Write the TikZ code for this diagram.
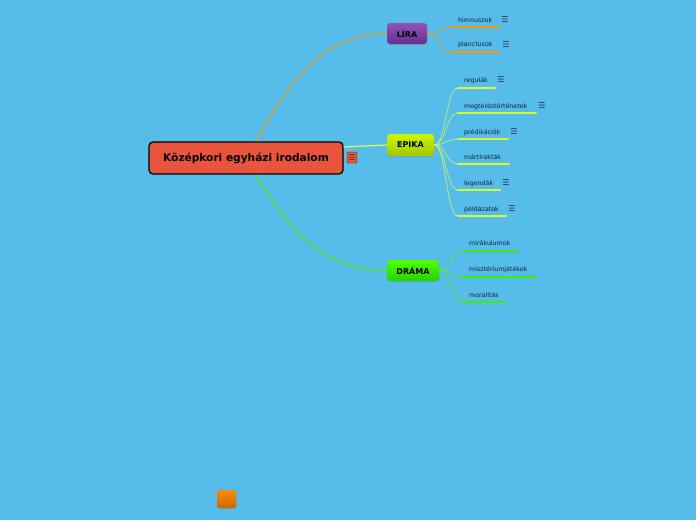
\documentclass[tikz,border=0pt]{standalone}
\usepackage{fontspec}
\setmainfont{DejaVu Sans}
\usetikzlibrary{shadows}
\definecolor{bg}{RGB}{86,189,235}
\definecolor{mainred}{RGB}{232,84,60}
\definecolor{liraTop}{RGB}{146,82,184}
\definecolor{liraBot}{RGB}{104,48,142}
\definecolor{epTop}{RGB}{206,245,0}
\definecolor{epBot}{RGB}{160,200,0}
\definecolor{drTop}{RGB}{80,255,0}
\definecolor{drBot}{RGB}{36,210,0}
\definecolor{liraLine}{RGB}{255,153,0}
\definecolor{epLine}{RGB}{214,250,40}
\definecolor{epThin}{RGB}{200,240,110}
\definecolor{drLine}{RGB}{60,240,0}
\definecolor{drThin}{RGB}{90,235,60}
\definecolor{leafText}{RGB}{20,30,50}
\definecolor{iconGray}{RGB}{40,50,60}
\tikzset{
  mainbox/.style={draw=black, line width=1.3pt, fill=mainred, rounded corners=4pt,
    minimum width=194pt, minimum height=32pt, inner sep=0pt,
    font=\bfseries\fontsize{10.6}{12}\selectfont, text=black},
  topic/.style={rounded corners=3pt, inner sep=0pt, minimum height=21pt,
    font=\bfseries\fontsize{8}{9}\selectfont, text=black,
    drop shadow={shadow xshift=0.6pt, shadow yshift=-1pt, opacity=0.3}},
  leaf/.style={anchor=west, inner sep=0pt, yshift=-1.2pt, text=leafText, font=\fontsize{6.3}{7}\selectfont},
  icon/.style={inner sep=0pt, yshift=-0.8pt, text=iconGray, font=\fontsize{8}{8}\selectfont},
  ulL/.style={draw=liraLine, line width=2.6pt, line cap=round},
  ulE/.style={draw=epLine, line width=2.6pt, line cap=round},
  ulD/.style={draw=drLine, line width=2.6pt, line cap=round},
  linkL/.style={draw=liraLine!80!bg, line width=0.8pt},
  linkE/.style={draw=epThin, line width=0.7pt},
  linkD/.style={draw=drThin, line width=0.8pt},
}
\begin{document}
\begin{tikzpicture}[x=1pt,y=-1pt]
\fill[bg] (0,0) rectangle (696,520);
\useasboundingbox (0,0) rectangle (696,520);

% central node
\node[mainbox] (main) at (246,158) {Középkori egyházi irodalom};
\node[draw=red!60!black, line width=0.4pt, fill=mainred, rounded corners=1pt, minimum width=10pt, minimum height=11pt, inner sep=0pt, text=black!80, font=\fontsize{8}{8}\selectfont] (mainicon) at (352,157.5) {☰};

% topics
\node[topic, top color=liraTop, bottom color=liraBot, minimum width=40pt] (lira) at (407,33.5) {LÍRA};
\node[topic, top color=epTop, bottom color=epBot, minimum width=47pt, minimum height=22pt] (epika) at (410.5,145) {EPIKA};
\node[topic, top color=drTop, bottom color=drBot, minimum width=52pt] (drama) at (413,270.5) {DRÁMA};

% main connectors
\draw[draw=liraLine!85!bg, line width=1.2pt] ([xshift=10pt]main.north) .. controls +(35,-65) and +(-60,0) .. (lira.west);
\draw[draw=epLine!85!white, line width=1.2pt] ([yshift=11pt]main.east) -- (epika.west);
\draw[draw=drLine, line width=1.2pt] ([xshift=10pt]main.south) .. controls +(35,60) and +(-60,0) .. (drama.west);

% ---- LÍRA children
\node[leaf] (h1) at (458,19) {himnuszok};
\node[icon] (h1i) at (505,19) {☰};
\coordinate (h1u) at (452,27);
\coordinate (h1e) at (499,27);
\draw[ulL] (h1u) -- (h1e);
\draw[linkL] (lira.east) .. controls +(12,0) and +(-12,0) .. (h1u);

\node[leaf] (h2) at (458,44) {planctusok};
\node[icon] (h2i) at (506,44) {☰};
\coordinate (h2u) at (452,52);
\coordinate (h2e) at (499,52);
\draw[ulL] (h2u) -- (h2e);
\draw[linkL] (lira.east) .. controls +(12,0) and +(-12,0) .. (h2u);

% ---- EPIKA children
\node[leaf] (e1) at (464,79) {regulák};
\node[icon] (e1i) at (501,79) {☰};
\coordinate (e1u) at (458,88);
\coordinate (e1e) at (495,88);
\draw[ulE] (e1u) -- (e1e);
\draw[linkE] (epika.east) .. controls +(12,0) and +(-12,0) .. (e1u);

\node[leaf] (e2) at (464,105) {megtéréstörténetek};
\node[icon] (e2i) at (542,105) {☰};
\coordinate (e2u) at (458,113);
\coordinate (e2e) at (536,113);
\draw[ulE] (e2u) -- (e2e);
\draw[linkE] (epika.east) .. controls +(12,0) and +(-12,0) .. (e2u);

\node[leaf] (e3) at (464,131) {prédikációk};
\node[icon] (e3i) at (514,131) {☰};
\coordinate (e3u) at (458,139);
\coordinate (e3e) at (508,139);
\draw[ulE] (e3u) -- (e3e);
\draw[linkE] (epika.east) .. controls +(12,0) and +(-12,0) .. (e3u);

\node[leaf] (e4) at (464,156) {mártírakták};
\coordinate (e4u) at (458,164);
\coordinate (e4e) at (509,164);
\draw[ulE] (e4u) -- (e4e);
\draw[linkE] (epika.east) .. controls +(12,0) and +(-12,0) .. (e4u);

\node[leaf] (e5) at (464,182) {legendák};
\node[icon] (e5i) at (506,182) {☰};
\coordinate (e5u) at (458,190);
\coordinate (e5e) at (500,190);
\draw[ulE] (e5u) -- (e5e);
\draw[linkE] (epika.east) .. controls +(12,0) and +(-12,0) .. (e5u);

\node[leaf] (e6) at (464,208) {példázatok};
\node[icon] (e6i) at (512,208) {☰};
\coordinate (e6u) at (458,216);
\coordinate (e6e) at (506,216);
\draw[ulE] (e6u) -- (e6e);
\draw[linkE] (epika.east) .. controls +(12,0) and +(-12,0) .. (e6u);

% ---- DRÁMA children
\node[leaf] (d1) at (469,242) {mirákulumok};
\coordinate (d1u) at (463,251);
\coordinate (d1e) at (518,251);
\draw[ulD] (d1u) -- (d1e);
\draw[linkD] (drama.east) .. controls +(12,0) and +(-12,0) .. (d1u);

\node[leaf] (d2) at (469,268) {misztériumjátékok};
\coordinate (d2u) at (463,277);
\coordinate (d2e) at (536,277);
\draw[ulD] (d2u) -- (d2e);
\draw[linkD] (drama.east) .. controls +(12,0) and +(-12,0) .. (d2u);

\node[leaf] (d3) at (469,294) {moralitás};
\coordinate (d3u) at (463,302);
\coordinate (d3e) at (505,302);
\draw[ulD] (d3u) -- (d3e);
\draw[linkD] (drama.east) .. controls +(12,0) and +(-12,0) .. (d3u);

% orange square at bottom
\node[rounded corners=2pt, top color=orange!90!yellow, bottom color=orange!80!black, minimum width=19pt, minimum height=18pt, inner sep=0pt,
  drop shadow={shadow xshift=0.5pt, shadow yshift=-0.8pt, opacity=0.3}] (sq) at (226.5,499) {};
\end{tikzpicture}
\end{document}
